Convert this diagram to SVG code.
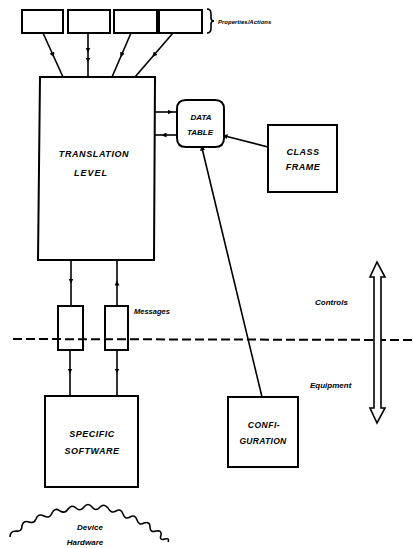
<svg xmlns="http://www.w3.org/2000/svg" width="414" height="548" viewBox="0 0 414 548">
<defs>
<marker id="ah" viewBox="0 0 10 10" refX="5" refY="5" markerWidth="5" markerHeight="5" orient="auto" markerUnits="userSpaceOnUse">
<path d="M0,0 L10,5 L0,10 z" fill="#000"/>
</marker>
</defs>
<style>
.box{fill:#fff;stroke:#000;stroke-width:2}
.ln{fill:none;stroke:#000;stroke-width:1.6}
.t{font-family:"Liberation Sans",Arial,sans-serif;font-weight:bold;font-style:italic;fill:#000;text-anchor:middle}
.lbl{font-family:"Liberation Sans",Arial,sans-serif;font-weight:bold;font-style:italic;fill:#000}
</style>
<rect width="414" height="548" fill="#fff"/>

<g id="connectors">
<path class="ln" d="M43,33 L53,55 L63,77" marker-mid="url(#ah)"/>
<path class="ln" d="M88,33 L88,50 L88,60 L88,77" marker-mid="url(#ah)"/>
<path class="ln" d="M131,33 L121.5,55 L112,77" marker-mid="url(#ah)"/>
<path class="ln" d="M173,33 L154,55 L135,77" marker-mid="url(#ah)"/>
<path class="ln" d="M155,112 L170,112 L177,112" marker-mid="url(#ah)"/>
<path class="ln" d="M177,135 L164,135 L155,135" marker-mid="url(#ah)"/>
<path class="ln" d="M268,147 L225,136" marker-end="url(#ah)"/>
<path class="ln" d="M262,397 L202,148" marker-end="url(#ah)"/>
<path class="ln" d="M71,260 L71,281 L71,306" marker-mid="url(#ah)"/>
<path class="ln" d="M117,306 L117,283 L117,260" marker-mid="url(#ah)"/>
<path class="ln" d="M70,350 L70,371 L70,396" marker-mid="url(#ah)"/>
<path class="ln" d="M117,350 L117,371 L117,396" marker-mid="url(#ah)"/>
</g>

<g id="props">
<rect class="box" x="22" y="10" width="41" height="23"/>
<rect class="box" x="68" y="10" width="42" height="23"/>
<rect class="box" x="114" y="10" width="43" height="23"/>
<rect class="box" x="159" y="10" width="43" height="23"/>
<path class="ln" d="M207,9 Q211,9 211,14 L211,18 Q211,21 214,21 Q211,21 211,24 L211,28 Q211,33 207,33"/>
<text class="lbl" x="218" y="24" font-size="6">Properties/Actions</text>
</g>

<g id="translation">
<path class="box" d="M40,77 L155,77 L154,260 L38,260 Z"/>
<text class="t" x="94" y="157" font-size="9" letter-spacing="0.6">TRANSLATION</text>
<text class="t" x="91" y="176" font-size="9" letter-spacing="1">LEVEL</text>
</g>

<g id="datatable">
<path class="box" d="M186,100 L215,100 Q224,100 224,109 L224,138 Q224,147 215,147 L186,147 Q177,147 177,138 L177,109 Q177,100 186,100 Z"/>
<text class="t" x="201" y="120" font-size="8">DATA</text>
<text class="t" x="200" y="135" font-size="8">TABLE</text>
</g>

<g id="classframe">
<rect class="box" x="268" y="125" width="69" height="67"/>
<text class="t" x="303" y="155" font-size="9" letter-spacing="0.5">CLASS</text>
<text class="t" x="303" y="170" font-size="9" letter-spacing="0.5">FRAME</text>
</g>

<g id="messages">
<rect class="box" x="58" y="306" width="25" height="44"/>
<rect class="box" x="105" y="306" width="23" height="44"/>
<text class="lbl" x="134" y="314" font-size="7.5">Messages</text>
</g>

<g id="boundary">
<line x1="13" y1="339" x2="414" y2="340" stroke="#000" stroke-width="2" stroke-dasharray="9,4"/>
<text class="lbl" x="315" y="305" font-size="8">Controls</text>
<text class="lbl" x="310" y="388" font-size="8">Equipment</text>
</g>

<g id="doublearrow">
<path d="M374,277 L370,277 L377,262 L385,277 L381,277 L381,408 L385,408 L377,423 L370,408 L374,408 Z" fill="#fff" stroke="#000" stroke-width="1.6"/>
</g>

<g id="specific">
<rect class="box" x="45" y="396" width="93" height="91"/>
<text class="t" x="92" y="437" font-size="9" letter-spacing="0.5">SPECIFIC</text>
<text class="t" x="92" y="454" font-size="9" letter-spacing="0.5">SOFTWARE</text>
</g>

<g id="configuration">
<rect class="box" x="228" y="397" width="70" height="70"/>
<text class="t" x="264" y="428" font-size="8.5" letter-spacing="0.5">CONFI-</text>
<text class="t" x="263" y="444" font-size="8.5" letter-spacing="0.3">GURATION</text>
</g>

<g id="hardware">
<path class="ln" d="M10,537 Q10,531 16,531 Q22,532 22,526 Q23,520 29,522 Q34,524 36,519 Q38,513 44,516 Q50,519 52,513 Q55,507 60,511 Q65,514 68,509 Q72,504 76,508 Q80,512 84,507 Q88,502 92,507 Q96,512 100,507 Q104,503 108,508 Q111,514 116,511 Q121,508 123,514 Q125,520 130,517 Q135,514 137,520 Q139,526 144,523 Q150,521 150,527 Q150,533 156,531 Q162,530 161,535 Q159,541 165,539 Q170,538 168,542"/>
<text class="t" x="90" y="530" font-size="8">Device</text>
<text class="t" x="85" y="545" font-size="8">Hardware</text>
</g>
</svg>
